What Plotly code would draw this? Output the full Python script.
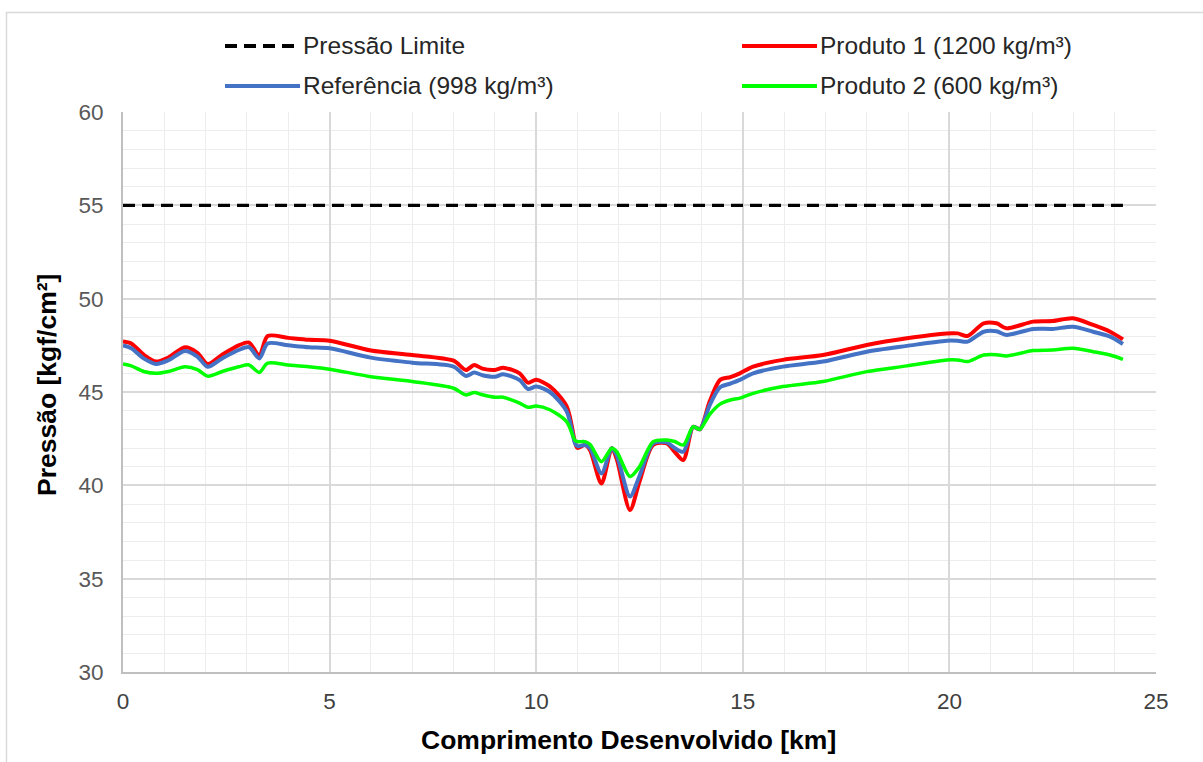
import plotly.graph_objects as go

# ---------------- data ----------------
km = [0, 0.2, 0.5, 0.8, 1.1, 1.5, 1.8, 2.05, 2.4, 2.8, 3.05, 3.3, 3.5, 4.0, 4.5, 5.0,
      6.0, 7.0, 8.0, 8.3, 8.5, 8.7, 9.0, 9.2, 9.6, 9.8, 10.0, 10.33, 10.74, 10.94,
      11.0, 11.18, 11.3, 11.58, 11.83, 11.95, 12.27, 12.5, 12.83, 13.16, 13.35,
      13.56, 13.8, 13.96, 14.2, 14.45, 14.7, 14.93, 15.25, 15.97, 16.94, 18.0,
      18.97, 19.93, 20.2, 20.44, 20.83, 21.14, 21.38, 22.03, 22.5, 22.99, 23.48,
      23.89, 24.2]

referencia = [47.5, 47.35, 46.8, 46.5, 46.7, 47.2, 46.9, 46.35, 46.8, 47.25, 47.4,
              46.8, 47.6, 47.5, 47.4, 47.34, 46.84, 46.57, 46.36, 45.86, 46.04,
              45.9, 45.82, 45.95, 45.64, 45.16, 45.29, 45.0, 43.95, 42.25, 42.1,
              42.16, 42.0, 40.64, 41.99, 41.6, 39.4, 40.5, 42.25, 42.3, 42.0, 41.8,
              43.14, 43.0, 44.3, 45.25, 45.45, 45.65, 46.0, 46.36, 46.63, 47.16,
              47.47, 47.75, 47.75, 47.7, 48.23, 48.25, 48.06, 48.38, 48.38, 48.5,
              48.23, 47.97, 47.57]

produto1 = [47.7, 47.6, 47.0, 46.63, 46.85, 47.4, 47.1, 46.5, 47.0, 47.5, 47.65,
            46.95, 48.0, 47.9, 47.8, 47.75, 47.22, 46.98, 46.68, 46.18, 46.45,
            46.25, 46.18, 46.3, 46.0, 45.5, 45.65, 45.3, 44.22, 42.3, 42.0, 42.16,
            41.9, 40.1, 41.99, 41.4, 38.68, 40.2, 42.16, 42.25, 41.8, 41.36, 43.14,
            43.0, 44.5, 45.65, 45.8, 46.0, 46.36, 46.72, 46.98, 47.52, 47.88,
            48.14, 48.14, 48.0, 48.68, 48.68, 48.41, 48.77, 48.8, 48.95, 48.59,
            48.23, 47.82]

produto2 = [46.5, 46.4, 46.1, 46.0, 46.1, 46.35, 46.2, 45.85, 46.1, 46.35, 46.45,
            46.05, 46.55, 46.45, 46.35, 46.22, 45.82, 45.56, 45.2, 44.84, 44.97,
            44.85, 44.72, 44.72, 44.4, 44.18, 44.25, 44.05, 43.4, 42.4, 42.34,
            42.34, 42.2, 41.27, 41.99, 41.8, 40.47, 41.0, 42.34, 42.43, 42.35,
            42.16, 43.14, 43.0, 43.8, 44.35, 44.57, 44.67, 44.93, 45.29, 45.56,
            46.09, 46.4, 46.72, 46.72, 46.63, 46.98, 47.0, 46.93, 47.22, 47.25,
            47.34, 47.16, 46.98, 46.75]

limite_km = [0, 24.2]
limite = [55, 55]

names = ["Pressão Limite", "Produto 1 (1200 kg/m³)",
         "Referência (998 kg/m³)", "Produto 2 (600 kg/m³)"]
colors = ["#000000", "#FF0000", "#4472C4", "#00FF00"]

# ---------------- layout geometry ----------------
W, H = 1203, 762
L, R, T, B = 123, 47, 112, 90
PW, PH = W - L - R, H - T - B
FONT = "Liberation Sans, Arial, sans-serif"


def px(x):
    return (x - L) / PW


def py(y):
    return (H - B - y) / PH


fig = go.Figure()
fig.add_trace(go.Scatter(x=limite_km, y=limite, mode="lines", name=names[0],
                         line=dict(color=colors[0], width=3.2, dash="12px,7px"),
                         showlegend=False))
fig.add_trace(go.Scatter(x=km, y=produto1, mode="lines", name=names[1],
                         line=dict(color=colors[1], width=4, shape="spline", smoothing=0.8),
                         showlegend=False))
fig.add_trace(go.Scatter(x=km, y=referencia, mode="lines", name=names[2],
                         line=dict(color=colors[2], width=4, shape="spline", smoothing=0.8),
                         showlegend=False))
fig.add_trace(go.Scatter(x=km, y=produto2, mode="lines", name=names[3],
                         line=dict(color=colors[3], width=3.5, shape="spline", smoothing=0.8),
                         showlegend=False))

shapes = []
annotations = []
# manual legend (2 columns x 2 rows)
legend_pos = [(225, 46), (742, 46), (225, 86), (742, 86)]
for i, (lx, ly) in enumerate(legend_pos):
    dash = "12px,7px" if i == 0 else "solid"
    shapes.append(dict(type="line", xref="paper", yref="paper",
                       x0=px(lx), x1=px(lx + 75), y0=py(ly), y1=py(ly),
                       line=dict(color=colors[i], width=3.8, dash=dash)))
    annotations.append(dict(text=names[i], xref="paper", yref="paper",
                            x=px(lx + 76), y=py(ly), xanchor="left", yanchor="middle",
                            showarrow=False, font=dict(family=FONT, size=24.5, color="#262626")))

# axis titles
annotations.append(dict(text="<b>Comprimento Desenvolvido [km]</b>", xref="paper", yref="paper",
                        x=px(628), y=py(740), xanchor="center", yanchor="middle",
                        showarrow=False, font=dict(family=FONT, size=26.5, color="#000000")))
annotations.append(dict(text="<b>Pressão [kgf/cm²]</b>", xref="paper", yref="paper",
                        x=px(47), y=py(385), xanchor="center", yanchor="middle", textangle=-90,
                        showarrow=False, font=dict(family=FONT, size=26.5, color="#000000")))

# outer chart border
shapes.append(dict(type="rect", xref="paper", yref="paper",
                   x0=px(6.5), x1=px(1215), y0=py(12.5), y1=py(775),
                   line=dict(color="#D9D9D9", width=1.5), layer="below"))

fig.update_layout(
    width=W, height=H,
    margin=dict(l=L, r=R, t=T, b=B),
    paper_bgcolor="white", plot_bgcolor="white",
    showlegend=False,
    shapes=shapes, annotations=annotations,
    xaxis=dict(range=[0, 25], dtick=5, tick0=0, showgrid=True, gridcolor="#D9D9D9", gridwidth=1.5,
               minor=dict(dtick=1, showgrid=True, gridcolor="#EDEDED", gridwidth=1),
               showline=True, linecolor="#BFBFBF", linewidth=2, zeroline=False,
               ticks="", tickfont=dict(family=FONT, size=22.5, color="#404040"), ticklabelstandoff=8),
    yaxis=dict(range=[30, 60], dtick=5, tick0=30, showgrid=True, gridcolor="#D9D9D9", gridwidth=1.5,
               minor=dict(dtick=1, showgrid=True, gridcolor="#EDEDED", gridwidth=1),
               showline=True, linecolor="#BFBFBF", linewidth=2, zeroline=False,
               ticks="", tickfont=dict(family=FONT, size=22.5, color="#595959"), ticklabelstandoff=13),
)

fig.write_html("out.html")
